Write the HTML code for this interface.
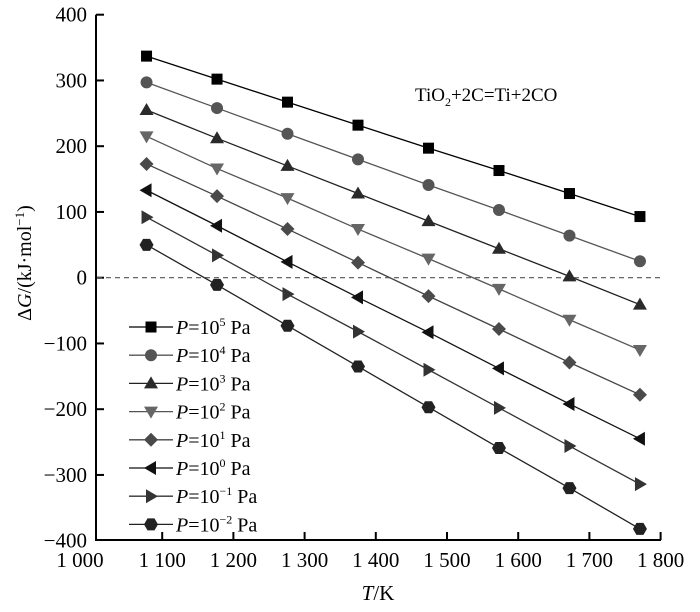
<!DOCTYPE html>
<html><head><meta charset="utf-8"><style>
html,body{margin:0;padding:0;background:#fff;}
svg{display:block;font-family:"Liberation Serif",serif;}
</style></head><body>
<svg id="chart" width="700" height="612" viewBox="0 0 700 612">
<g id="axes"></g><g id="series"></g><g id="legend"></g>
<text x="415" y="101" font-size="19">TiO<tspan font-size="12" dy="5">2</tspan><tspan dy="-5">+2C=Ti+2CO</tspan></text>
<text transform="translate(31,263) rotate(-90)" text-anchor="middle" font-size="20">Δ<tspan font-style="italic">G</tspan>/(kJ·mol<tspan font-size="13" dy="-7">−1</tspan><tspan dy="7">)</tspan></text>
<text x="378" y="600" text-anchor="middle" font-size="21"><tspan font-style="italic">T</tspan>/K</text>
</svg>
<script>
const temps=[1078,1177,1276,1375,1474,1573,1672,1771];
const s1e5=[337,302,267,232,197,163,128,93];
const s1e4=[297,258,219,180,141,103,64,25];
const s1e3=[255,212,170,128,86,44,2,-41];
const s1e2=[215,166,121,74,29,-17,-64,-110];
const s1e1=[173,124,74,23,-28,-78,-129,-178];
const s1e0=[133,79,24,-30,-83,-138,-192,-245];
const s1em1=[92,34,-25,-82,-140,-198,-256,-314];
const s1em2=[50,-11,-73,-135,-197,-259,-320,-382];
const xTicks=[1000,1100,1200,1300,1400,1500,1600,1700,1800];
const xTickLabels=["1 000","1 100","1 200","1 300","1 400","1 500","1 600","1 700","1 800"];
const yTicks=[-400,-300,-200,-100,0,100,200,300,400];
const legendExp=["5","4","3","2","1","0","−1","−2"];

const NS="http://www.w3.org/2000/svg";
function X(t){return 91+(t-1000)*0.712;}
function Y(v){return 277.7-v*0.6575;}
function mk(tag,attrs,parent){const e=document.createElementNS(NS,tag);for(const k in attrs)e.setAttribute(k,attrs[k]);parent.appendChild(e);return e;}
const axes=document.getElementById('axes'),ser=document.getElementById('series'),leg=document.getElementById('legend');

let a=mk('path',{d:`M96,${Y(400)}V540H661`,fill:'none',stroke:'#000','stroke-width':2},axes);


xTicks.forEach((t,i)=>{
  if(i>0){let tk=mk('line',{x1:X(t),x2:X(t),y1:540,y2:532,stroke:'#000','stroke-width':2},axes);
  
  }
  let lx=i===0?80:X(t);
  let tx=mk('text',{x:lx,y:567,'text-anchor':'middle','font-size':21},axes);tx.textContent=xTickLabels[i];
  
  
});
yTicks.forEach(v=>{
  if(v>-400){let tk=mk('line',{x1:96,x2:104,y1:Y(v),y2:Y(v),stroke:'#000','stroke-width':2},axes);
  
  }
  let tx=mk('text',{x:87,y:Y(v)+7,'text-anchor':'end','font-size':21},axes);tx.textContent=v<0?'−'+(-v):String(v);
  
  
});
let z=mk('line',{x1:97,x2:661,y1:Y(0),y2:Y(0),stroke:'#555','stroke-width':1.2,'stroke-dasharray':'5,4'},axes);



function marker(type,cx,cy,fill,parent){
  let e;
  if(type==='square')e=mk('rect',{x:cx-5.5,y:cy-5.5,width:11,height:11,fill},parent);
  else if(type==='circle')e=mk('circle',{cx,cy,r:6,fill},parent);
  else{
    let p;
    if(type==='up')p=[[0,-7],[7,5],[-7,5]];
    else if(type==='down')p=[[-7,-5],[7,-5],[0,7]];
    else if(type==='diamond')p=[[0,-7],[7,0],[0,7],[-7,0]];
    else if(type==='left')p=[[-7,0],[5,-7],[5,7]];
    else if(type==='right')p=[[7,0],[-5,-7],[-5,7]];
    else p=[[-3.5,-6],[3.5,-6],[7,0],[3.5,6],[-3.5,6],[-7,0]];
    e=mk('polygon',{points:p.map(q=>(cx+q[0])+','+(cy+q[1])).join(' '),fill},parent);
  }
  return e;
}
const seriesList=[
 {d:s1e5,m:'square',c:'#000',l:'#000'},
 {d:s1e4,m:'circle',c:'#555',l:'#555'},
 {d:s1e3,m:'up',c:'#2a2a2a',l:'#222'},
 {d:s1e2,m:'down',c:'#666',l:'#555'},
 {d:s1e1,m:'diamond',c:'#4a4a4a',l:'#444'},
 {d:s1e0,m:'left',c:'#111',l:'#111'},
 {d:s1em1,m:'right',c:'#333',l:'#333'},
 {d:s1em2,m:'hex',c:'#222',l:'#222'}
];
seriesList.forEach((s,i)=>{
  const g=mk('g',{},ser);
  
  
  let ln=mk('polyline',{points:s.d.map((v,j)=>X(temps[j])+','+Y(v)).join(' '),fill:'none',stroke:s.l,'stroke-width':1.3},g);
  
  
  s.d.forEach((v,j)=>{
    let m=marker(s.m,X(temps[j]),Y(v),s.c,g);
    
    
  });
  const ly=327+i*28.2;
  const lg=mk('g',{},leg);
  
  
  mk('line',{x1:129,x2:173,y1:ly,y2:ly,stroke:s.l,'stroke-width':1.3},lg);
  marker(s.m,151,ly,s.c,lg);
  const t=mk('text',{x:176,y:ly+7,'font-size':20},lg);
  t.innerHTML='<tspan font-style="italic">P</tspan>=10<tspan font-size="12" dy="-8">'+legendExp[i]+'</tspan><tspan dy="8"> Pa</tspan>';
});
</script>
</body></html>
